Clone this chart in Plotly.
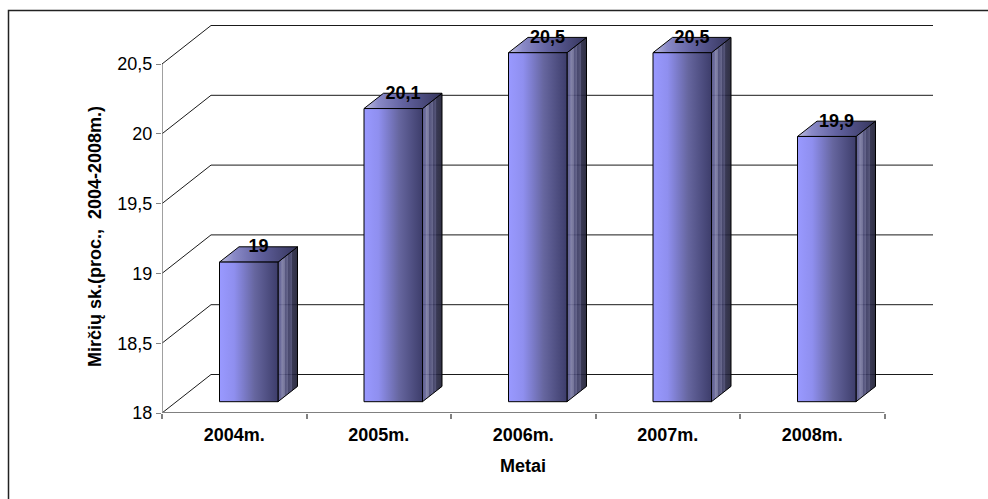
import plotly.graph_objects as go

# Chart data
categories = ["2004m.", "2005m.", "2006m.", "2007m.", "2008m."]
values = [19, 20.1, 20.5, 20.5, 19.9]
value_labels = ["19", "20,1", "20,5", "20,5", "19,9"]
y_ticks = [18, 18.5, 19, 19.5, 20, 20.5]
y_tick_labels = ["18", "18,5", "19", "19,5", "20", "20,5"]

# Pixel geometry of the pseudo-3D box
W, H = 988, 499
PLOT_L, PLOT_R, PLOT_T, PLOT_B = 162, 933, 20, 413
BAND_PX = 144.5
UNIT_PX = 139.6
Y_MIN = 18
x_max = (PLOT_R - PLOT_L) / BAND_PX
y_max = Y_MIN + (PLOT_B - PLOT_T) / UNIT_PX


def dx(px):
    return px / BAND_PX


def dy(px):
    return px / UNIT_PX


WALL_X, WALL_Y = dx(49), dy(38.5)
BAR_X, BAR_Y = dx(14.5), dy(11.3)
DEPTH_X, DEPTH_Y = dx(19.5), dy(15.3)
BAR_W = dx(58.5)

FONT = "Liberation Sans, Arial, sans-serif"
AXIS_GREY = "#808080"
OUTLINE = "#000000"

FRONT_SCALE = [[0, "#9999ff"], [0.25, "#8f8fef"], [0.6, "#66669f"], [1, "#3d3d6b"]]
TOP_SCALE = [[0, "#c0c0e0"], [0.18, "#8a8ac8"], [0.5, "#6262a0"], [1, "#35355c"]]
SIDE_SCALE = [
    [0, "rgba(80,80,135,0.92)"], [0.17, "rgba(100,100,150,0.92)"],
    [0.19, "rgba(125,125,165,0.92)"], [0.34, "rgba(105,105,145,0.92)"],
    [0.36, "rgba(70,70,115,0.92)"], [0.52, "rgba(90,90,130,0.92)"],
    [0.54, "rgba(55,55,95,0.92)"], [0.70, "rgba(72,72,110,0.92)"],
    [0.72, "rgba(40,40,70,0.92)"], [1, "rgba(30,30,50,0.92)"],
]

fig = go.Figure()

# Back wall and side wall gridlines
for tick in y_ticks:
    fig.add_trace(go.Scatter(
        x=[0, WALL_X, x_max], y=[tick, tick + WALL_Y, tick + WALL_Y],
        mode="lines", line=dict(color="#1a1a1a", width=1), hoverinfo="skip",
    ))

# Value axis and category axis lines
fig.add_trace(go.Scatter(
    x=[0, 0], y=[Y_MIN, y_ticks[-1]], mode="lines",
    line=dict(color=AXIS_GREY, width=1.5), hoverinfo="skip", cliponaxis=False,
))
fig.add_trace(go.Scatter(
    x=[0, len(categories)], y=[Y_MIN, Y_MIN], mode="lines",
    line=dict(color=AXIS_GREY, width=2), hoverinfo="skip", cliponaxis=False,
))


def face(xs, ys, scale):
    fig.add_trace(go.Scatter(
        x=xs, y=ys, mode="lines", fill="toself",
        fillgradient=dict(type="horizontal", colorscale=scale),
        line=dict(color=OUTLINE, width=1), hoverinfo="skip",
    ))


# Bars stand on the floor, so their heights are shifted by the floor offset
for i, v in enumerate(values):
    left = i + 0.5 - BAR_W / 2 + BAR_X
    right = left + BAR_W
    base = Y_MIN + BAR_Y
    top = v + BAR_Y
    face(
        [right, right + DEPTH_X, right + DEPTH_X, right, right],
        [base, base + DEPTH_Y, top + DEPTH_Y, top, base],
        SIDE_SCALE,
    )
    face(
        [left, left + DEPTH_X, right + DEPTH_X, right, left],
        [top, top + DEPTH_Y, top + DEPTH_Y, top, top],
        TOP_SCALE,
    )
    face(
        [left, right, right, left, left],
        [base, base, top, top, base],
        FRONT_SCALE,
    )

# Value labels sit on the rear edge of each bar top
fig.add_trace(go.Scatter(
    x=[i + 0.5 + BAR_X + DEPTH_X / 2 for i in range(len(values))],
    y=[v + BAR_Y + DEPTH_Y - dy(1) for v in values],
    text=value_labels, mode="text", textposition="middle center",
    textfont=dict(family=FONT, size=18, color="#000000", weight="bold"),
    hoverinfo="skip", cliponaxis=False,
))

BOLD = dict(family=FONT, size=18, color="#000000", weight="bold")

fig.update_layout(
    width=W, height=H,
    margin=dict(l=PLOT_L, r=W - PLOT_R, t=PLOT_T, b=H - PLOT_B, autoexpand=False),
    paper_bgcolor="#ffffff", plot_bgcolor="#ffffff",
    showlegend=False,
    font=dict(family=FONT, color="#000000"),
    xaxis=dict(
        range=[0, x_max], showgrid=False, zeroline=False, showline=False,
        tickmode="array",
        tickvals=[i + 0.5 for i in range(len(categories))], ticktext=categories,
        ticks="", tickfont=BOLD, ticklabelstandoff=9,
        minor=dict(
            tickmode="array", tickvals=list(range(len(categories) + 1)),
            ticks="outside", ticklen=5, tickwidth=1.5, tickcolor=AXIS_GREY,
            showgrid=False,
        ),
    ),
    yaxis=dict(
        range=[Y_MIN, y_max], showgrid=False, zeroline=False, showline=False,
        tickmode="array", tickvals=y_ticks, ticktext=y_tick_labels,
        ticks="outside", ticklen=5, tickwidth=1, tickcolor=AXIS_GREY,
        tickfont=dict(family=FONT, size=18),
    ),
    annotations=[
        dict(
            text="Metai", font=BOLD, showarrow=False,
            x=len(categories) / 2, xref="x",
            y=(PLOT_B - 466) / (PLOT_B - PLOT_T), yref="paper",
            xanchor="center", yanchor="middle",
        ),
        dict(
            text="Mirčių sk.(proc.,  2004-2008m.)", font=BOLD, showarrow=False,
            textangle=-90,
            x=(95 - PLOT_L) / (PLOT_R - PLOT_L), xref="paper",
            y=18 + (PLOT_B - 237) / UNIT_PX, yref="y",
            xanchor="center", yanchor="middle",
        ),
    ],
    # Outer frame: only the left and top edges fall inside the canvas
    shapes=[dict(
        type="rect", xref="paper", yref="paper",
        x0=(8.5 - PLOT_L) / (PLOT_R - PLOT_L), x1=(W + 20 - PLOT_L) / (PLOT_R - PLOT_L),
        y0=(PLOT_B - H - 20) / (PLOT_B - PLOT_T), y1=(PLOT_B - 10.5) / (PLOT_B - PLOT_T),
        line=dict(color="#222222", width=1.5), layer="below",
    )],
)

fig.write_html("out.html", config=dict(displayModeBar=False))
